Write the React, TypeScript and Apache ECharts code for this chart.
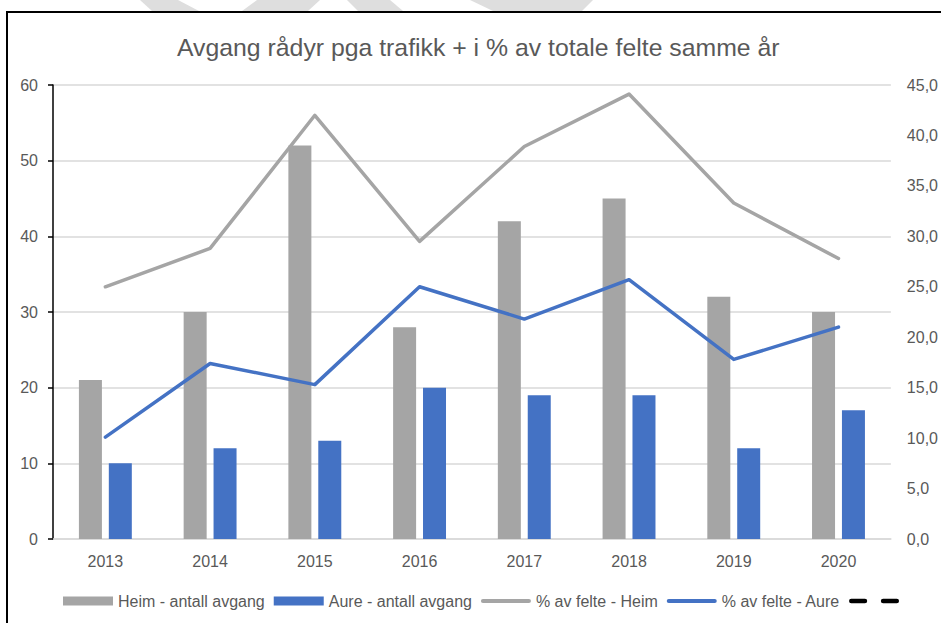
import React, { useEffect, useRef } from "react";
import * as echarts from "echarts";

const years = ["2013", "2014", "2015", "2016", "2017", "2018", "2019", "2020"];
const heimCount = [21, 30, 52, 28, 42, 45, 32, 30];
const aureCount = [10, 12, 13, 20, 19, 19, 12, 17];
const heimPct = [25.0, 28.8, 42.0, 29.5, 38.9, 44.1, 33.3, 27.8];
const aurePct = [10.1, 17.4, 15.3, 25.0, 21.8, 25.7, 17.8, 21.0];

const TITLE = "Avgang rådyr pga trafikk + i % av totale felte samme år";
const NAMES = ["Heim - antall avgang", "Aure - antall avgang", "% av felte - Heim", "% av felte - Aure", " "];

const GRAY = "#a5a5a5";
const BLUE = "#4472c4";
const TEXT = "#595959";
const FONT = "'Liberation Sans', Arial, sans-serif";

const LINE_ICON = "path://M2,0H48A2,2 0 0 1 48,4H2A2,2 0 0 1 2,0Z";
const DASH_ICON = "path://M2.5,0H17.5A2.5,2.5 0 0 1 17.5,5H2.5A2.5,2.5 0 0 1 2.5,0ZM37.5,0H52.5A2.5,2.5 0 0 1 52.5,5H37.5A2.5,2.5 0 0 1 37.5,0Z";

export default function App() {
  const ref = useRef<HTMLDivElement>(null);
  useEffect(() => {
    document.body.style.margin = "0";
    if (!ref.current) return;
    const chart = echarts.init(ref.current, null, { renderer: "svg" });
    const wm = "#dedede";
    chart.setOption({
      animation: false,
      backgroundColor: "#ffffff",
      textStyle: { fontFamily: FONT },
      title: {
        text: TITLE,
        left: 177,
        top: 32,
        padding: 0,
        textStyle: { fontFamily: FONT, fontSize: 24.8, fontWeight: "normal", color: TEXT, lineHeight: 30 },
      },
      graphic: [
        { type: "polygon", silent: true, z: 0, shape: { points: [[140, 0], [178, 0], [199, 11], [152, 11]] }, style: { fill: wm } },
        { type: "polygon", silent: true, z: 0, shape: { points: [[257, 0], [320, 0], [308, 11], [242, 11]] }, style: { fill: wm } },
        { type: "polygon", silent: true, z: 0, shape: { points: [[347, 0], [390, 0], [403, 11], [358, 11]] }, style: { fill: wm } },
        { type: "polygon", silent: true, z: 0, shape: { points: [[470, 0], [593, 0], [582, 11], [493, 11]] }, style: { fill: wm } },
        { type: "rect", silent: true, z: 0, shape: { x: 7, y: 12, width: 1000, height: 700 }, style: { fill: "none", stroke: "#000", lineWidth: 2 } },
      ],
      legend: {
        left: 63,
        top: 592,
        padding: 0,
        itemWidth: 50,
        itemHeight: 9,
        itemGap: 9,
        symbolKeepAspect: true,
        textStyle: { fontFamily: FONT, fontSize: 16, color: TEXT, lineHeight: 18 },
        data: [
          { name: NAMES[0], icon: "rect" },
          { name: NAMES[1], icon: "rect" },
          { name: NAMES[2], icon: LINE_ICON, itemStyle: { color: GRAY, borderWidth: 0 } },
          { name: NAMES[3], icon: LINE_ICON, itemStyle: { color: BLUE, borderWidth: 0 } },
          { name: NAMES[4], icon: DASH_ICON, itemStyle: { color: "#000", borderWidth: 0 } },
        ],
      },
      grid: { left: 53, right: 49, top: 85, bottom: 84, containLabel: false },
      xAxis: {
        type: "category",
        data: years,
        axisLine: { show: true, lineStyle: { color: "#d9d9d9", width: 1.5 } },
        axisTick: { show: false },
        axisLabel: { color: TEXT, fontSize: 16, fontFamily: FONT, margin: 14 },
      },
      yAxis: [
        {
          type: "value",
          min: 0,
          max: 60,
          interval: 10,
          axisLine: { show: true, lineStyle: { color: "#000", width: 1.5 } },
          axisTick: { show: true, length: 5, lineStyle: { color: "#000", width: 1.5 } },
          axisLabel: { color: TEXT, fontSize: 16, fontFamily: FONT, margin: 15 },
          splitLine: { show: true, lineStyle: { color: "#d9d9d9", width: 1.5 } },
        },
        {
          type: "value",
          min: 0,
          max: 45,
          interval: 5,
          position: "right",
          axisLine: { show: false },
          axisTick: { show: false },
          splitLine: { show: false },
          axisLabel: {
            color: TEXT,
            fontSize: 16,
            fontFamily: FONT,
            margin: 16,
            formatter: (v: number) => v.toFixed(1).replace(".", ","),
          },
        },
      ],
      series: [
        { name: NAMES[0], type: "bar", data: heimCount, barWidth: 23, barGap: "30%", itemStyle: { color: GRAY }, yAxisIndex: 0 },
        { name: NAMES[1], type: "bar", data: aureCount, barWidth: 23, barGap: "30%", itemStyle: { color: BLUE }, yAxisIndex: 0 },
        {
          name: NAMES[2], type: "line", data: heimPct, yAxisIndex: 1, symbol: "none", showSymbol: false,
          color: GRAY, lineStyle: { color: GRAY, width: 3.5, join: "round", cap: "round" }, z: 3,
        },
        {
          name: NAMES[3], type: "line", data: aurePct, yAxisIndex: 1, symbol: "none", showSymbol: false,
          color: BLUE, lineStyle: { color: BLUE, width: 3.5, join: "round", cap: "round" }, z: 4,
        },
        {
          name: NAMES[4], type: "line", data: [], yAxisIndex: 1, symbol: "none", showSymbol: false,
          color: "#000", lineStyle: { color: "#000", width: 5, type: [18, 15], cap: "round" },
        },
      ],
    });
    return () => chart.dispose();
  }, []);
  return <div ref={ref} style={{ width: 941, height: 623 }} />;
}
